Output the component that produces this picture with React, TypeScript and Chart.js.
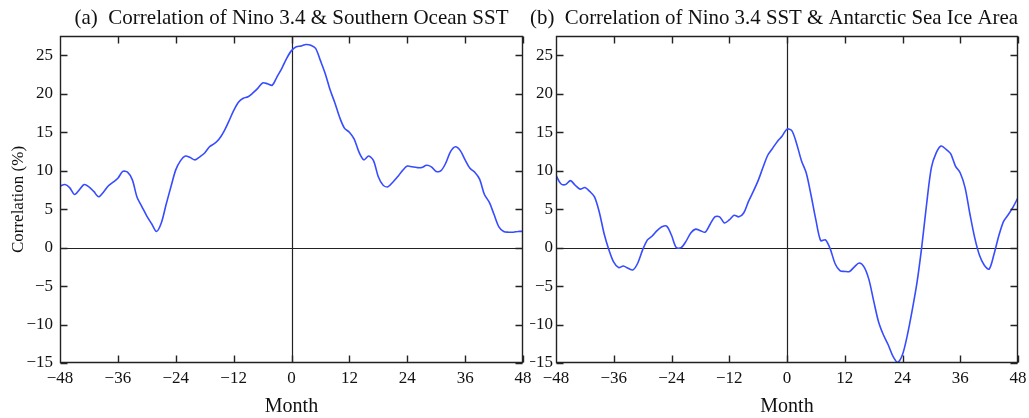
import React, { useEffect, useRef } from 'react';
import { Chart, registerables } from 'chart.js';

Chart.register(...registerables);

// Lag in months (x values)
const months: number[] = [
  -48, -47, -46, -45, -44, -43, -42, -41, -40, -39, -38, -37, -36, -35, -34, -33, -32, -31, -30, -29,
  -28, -27, -26, -25, -24, -23, -22, -21, -20, -19, -18, -17, -16, -15, -14, -13, -12, -11, -10, -9,
  -8, -7, -6, -5, -4, -3, -2, -1, 0, 1, 2, 3, 4, 5, 6, 7, 8, 9, 10, 11, 12, 13, 14, 15, 16, 17, 18,
  19, 20, 21, 22, 23, 24, 25, 26, 27, 28, 29, 30, 31, 32, 33, 34, 35, 36, 37, 38, 39, 40, 41, 42,
  43, 44, 45, 46, 47, 48,
];

// (a) Nino 3.4 vs Southern Ocean SST correlation (%)
const corrSST: number[] = [
  8.0, 8.2, 7.8, 6.9, 7.5, 8.2, 7.9, 7.3, 6.6, 7.2, 8.0, 8.5, 9.0, 9.9, 9.8, 8.8, 6.5, 5.3, 4.1, 3.1,
  2.1, 3.2, 5.6, 7.9, 10.1, 11.3, 11.9, 11.7, 11.4, 11.8, 12.3, 13.1, 13.5, 14.1, 15.1, 16.4, 17.8, 18.9, 19.4, 19.6,
  20.1, 20.7, 21.4, 21.3, 21.1, 22.2, 23.3, 24.6, 25.6, 26.1, 26.2, 26.4, 26.3, 25.9, 24.3, 22.6, 20.5, 18.8, 16.9, 15.5, 15.0, 14.1, 12.4, 11.4, 11.9, 11.3, 9.2,
  8.1, 7.9, 8.5, 9.2, 10.0, 10.6, 10.5, 10.4, 10.4, 10.7, 10.5, 9.9, 10.0, 11.0, 12.5, 13.1, 12.6, 11.4, 10.3, 9.8, 8.9, 6.9, 5.9, 4.3,
  2.7, 2.1, 2.0, 2.0, 2.1, 2.1,
];

// (b) Nino 3.4 SST vs Antarctic Sea Ice Area correlation (%)
const corrIce: number[] = [
  9.4, 8.3, 8.2, 8.7, 8.1, 7.6, 7.8, 7.3, 6.6, 4.6, 1.8, -0.3, -1.9, -2.6, -2.4, -2.7, -2.9, -2.0, -0.3, 1.0,
  1.5, 2.2, 2.7, 2.8, 1.6, 0.0, 0.0, 0.8, 1.9, 2.4, 2.2, 2.0, 3.0, 4.0, 4.0, 3.2, 3.6, 4.2, 4.0, 4.5,
  6.0, 7.3, 8.7, 10.4, 12.0, 12.9, 13.8, 14.5, 15.4, 15.2, 13.5, 11.3, 9.7, 6.8, 3.6, 0.9, 1.0, -0.2, -2.1, -3.0, -3.1, -3.1, -2.5, -2.0, -2.5, -4.1, -6.9,
  -9.6, -11.3, -12.6, -14.1, -14.9, -13.9, -11.4, -8.2, -4.6, 0.1, 5.6, 10.4, 12.3, 13.2, 12.8, 12.2, 10.6, 9.7, 7.8, 4.4, 1.3, -1.0,
  -2.3, -2.8, -0.9, 1.5, 3.4, 4.3, 5.3, 6.5,
];

const xTickValues: number[] = [-48, -36, -24, -12, 0, 12, 24, 36, 48];
const yTickValues: number[] = [-15, -10, -5, 0, 5, 10, 15, 20, 25];

const titleA = '(a)  Correlation of Nino 3.4 & Southern Ocean SST';
const titleB = '(b)  Correlation of Nino 3.4 SST & Antarctic Sea Ice Area';
const xTitle = 'Month';
const yTitle = 'Correlation (%)';

const SERIF = '"Liberation Serif", "Times New Roman", serif';
const LINE_COLOR = 'rgb(55, 75, 255)';
const INK = '#111';
const FRAME = '#222';

const fmt = (v: number) => (v < 0 ? '\u2212' + Math.abs(v) : String(v));

const framePlugin = {
  id: 'frame',
  beforeDatasetsDraw(chart: any) {
    const { ctx, chartArea, scales } = chart;
    const { left, right, top, bottom } = chartArea;
    const x0 = Math.round(scales.x.getPixelForValue(0)) + 0.5;
    const y0 = Math.round(scales.y.getPixelForValue(0)) + 0.5;
    ctx.save();
    ctx.strokeStyle = FRAME;
    ctx.lineWidth = 1.2;
    ctx.beginPath();
    ctx.moveTo(left, y0);
    ctx.lineTo(right, y0);
    ctx.moveTo(x0, top);
    ctx.lineTo(x0, bottom);
    ctx.stroke();
    ctx.restore();
  },
  afterDatasetsDraw(chart: any) {
    const { ctx, chartArea, scales } = chart;
    const L = Math.round(chartArea.left) + 0.5;
    const R = Math.round(chartArea.right) - 0.5;
    const T = Math.round(chartArea.top) + 0.5;
    const B = Math.round(chartArea.bottom) - 0.5;
    const len = 7;
    ctx.save();
    ctx.strokeStyle = FRAME;
    ctx.lineWidth = 1.4;
    ctx.beginPath();
    ctx.rect(L, T, R - L, B - T);
    xTickValues.forEach((v) => {
      const px = Math.round(scales.x.getPixelForValue(v)) + 0.5;
      ctx.moveTo(px, B);
      ctx.lineTo(px, B - len);
      ctx.moveTo(px, T);
      ctx.lineTo(px, T + len);
    });
    yTickValues.forEach((v) => {
      const py = Math.round(scales.y.getPixelForValue(v)) + 0.5;
      ctx.moveTo(L, py);
      ctx.lineTo(L + len, py);
      ctx.moveTo(R, py);
      ctx.lineTo(R - len, py);
    });
    ctx.stroke();
    ctx.restore();
  },
};

function makeConfig(values: number[], title: string, p: {
  padRight: number; yWidth: number; showYTitle: boolean; tickPad: number; titleFull: boolean;
}): any {
  return {
    type: 'line',
    data: {
      datasets: [
        {
          data: months.map((m, i) => ({ x: m, y: values[i] })),
          borderColor: LINE_COLOR,
          borderWidth: 1.6,
          pointRadius: 0,
          tension: 0.3,
          fill: false,
        },
      ],
    },
    options: {
      responsive: false,
      animation: false,
      layout: { padding: { left: 0, right: p.padRight, top: 0, bottom: 0 } },
      plugins: {
        legend: { display: false },
        tooltip: { enabled: false },
        title: {
          display: true,
          text: title,
          fullSize: p.titleFull,
          color: INK,
          font: { family: SERIF, size: 21, weight: 'normal', lineHeight: 1.2 },
          padding: { top: 5.4, bottom: 5.4 },
        },
      },
      scales: {
        x: {
          type: 'linear',
          min: -48,
          max: 48,
          grid: { display: false, drawTicks: false },
          border: { display: false },
          afterBuildTicks: (scale: any) => {
            scale.ticks = xTickValues.map((v) => ({ value: v }));
          },
          afterFit: (scale: any) => {
            scale.height = 55;
            scale.paddingLeft = 0;
            scale.paddingRight = 0;
          },
          ticks: {
            autoSkip: false,
            maxRotation: 0,
            padding: 5,
            color: INK,
            font: { family: SERIF, size: 17 },
            callback: (v: number) => fmt(v),
          },
          title: {
            display: true,
            text: xTitle,
            color: INK,
            font: { family: SERIF, size: 20 },
            padding: { top: 0, bottom: -1 },
          },
        },
        y: {
          type: 'linear',
          min: -15,
          max: 27.5,
          grid: { display: false, drawTicks: false },
          border: { display: false },
          afterBuildTicks: (scale: any) => {
            scale.ticks = yTickValues.map((v) => ({ value: v }));
          },
          afterFit: (scale: any) => {
            scale.width = p.yWidth;
            scale.paddingTop = 0;
            scale.paddingBottom = 0;
          },
          ticks: {
            padding: p.tickPad,
            color: INK,
            font: { family: SERIF, size: 17 },
            callback: (v: number) => fmt(v),
          },
          title: {
            display: p.showYTitle,
            text: yTitle,
            color: INK,
            font: { family: SERIF, size: 17 },
            padding: { top: 8, bottom: 0 },
          },
        },
      },
    },
    plugins: [framePlugin],
  };
}

function Panel(props: { left: number; width: number; config: any }) {
  const ref = useRef<HTMLCanvasElement | null>(null);
  useEffect(() => {
    if (!ref.current) return;
    const chart = new Chart(ref.current, props.config);
    return () => chart.destroy();
  }, []);
  return (
    <div style={{ position: 'absolute', left: props.left, top: 0, width: props.width, height: 418 }}>
      <canvas ref={ref} width={props.width} height={418} style={{ display: 'block' }} />
    </div>
  );
}

export default function App() {
  const cfgA = makeConfig(corrSST, titleA, { padRight: 22, yWidth: 60, showYTitle: true, tickPad: 7, titleFull: false });
  const cfgB = makeConfig(corrIce, titleB, { padRight: 11, yWidth: 26, showYTitle: false, tickPad: 3, titleFull: true });
  return (
    <div style={{ position: 'absolute', left: 0, top: 0, width: 1029, height: 418, background: '#fff', overflow: 'hidden' }}>
      <Panel left={0} width={545} config={cfgA} />
      <Panel left={530} width={499} config={cfgB} />
    </div>
  );
}
